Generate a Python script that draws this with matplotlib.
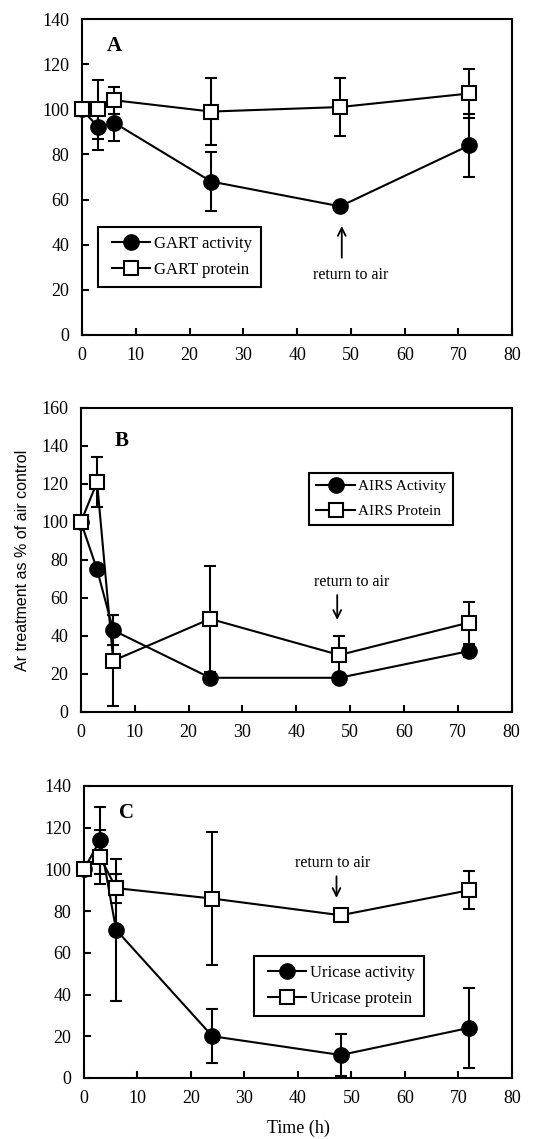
import matplotlib
matplotlib.use("Agg")
import matplotlib.pyplot as plt
from matplotlib.legend_handler import HandlerLine2D

# sampling times (h)
hours = [0, 3, 6, 24, 48, 72]

# panel A
gartAct = [100, 92, 94, 68, 57, 84]
gartActErr = [0, 10, 8, 13, 1, 14]
gartProt = [100, 100, 104, 99, 101, 107]
gartProtErr = [0, 13, 6, 15, 13, 11]

# panel B
airsAct = [100, 75, 43, 18, 18, 32]
airsActErr = [0, 0, 8, 0, 0, 3]
airsProt = [100, 121, 27, 49, 30, 47]
airsProtErr = [0, 13, 24, 28, 10, 11]

# panel C
uricAct = [100, 114, 71, 20, 11, 24]
uricActErr = [0, 16, 34, 13, 10, 19]
uricProt = [100, 106, 91, 86, 78, 90]
uricProtErr = [0, 13, 7, 32, 0, 9]

xTicks = [0, 10, 20, 30, 40, 50, 60, 70, 80]

serif = "Liberation Serif"


def drawPanel(ax, act, actErr, prot, protErr, labels, ymax, ystep,
              letter, letterPos, legLoc, legStyle, textPos, arrowFrom,
              arrowTo, arrowX):
	# error bars first, no legend entry
	ax.errorbar(hours, act, yerr=actErr, fmt='none', ecolor='black',
	            capsize=4, capthick=1.5, elinewidth=1.5, zorder=2, clip_on=False)
	ax.errorbar(hours, prot, yerr=protErr, fmt='none', ecolor='black',
	            capsize=4, capthick=1.5, elinewidth=1.5, zorder=2, clip_on=False)
	ax.plot(hours, act, color='black', lw=1.5, marker='o', ms=11,
	        mfc='black', mec='black', label=labels[0], zorder=3, clip_on=False)
	ax.plot(hours, prot, color='black', lw=1.5, marker='s', ms=10.5,
	        mfc='white', mec='black', mew=1.5, label=labels[1], zorder=4,
	        clip_on=False)
	ax.set_xlim(0, 80)
	ax.set_ylim(0, ymax)
	ax.set_xticks(xTicks)
	ax.set_yticks(range(0, ymax + 1, ystep))
	ax.tick_params(direction='in', length=5, width=1.5, labelsize=13, pad=9,
	               top=False, right=False)
	for lab in ax.get_xticklabels() + ax.get_yticklabels():
		lab.set_family(serif)
	for sp in ax.spines.values():
		sp.set_linewidth(1.5)
		sp.set_zorder(1)
	ax.text(letterPos[0], letterPos[1], letter, family=serif, weight='bold',
	        fontsize=15, ha='center', va='center')
	fs, pad, hlen, xpad, spacing = legStyle
	leg = ax.legend(loc='upper left', bbox_to_anchor=legLoc, frameon=True,
	                fancybox=False, edgecolor='black', framealpha=1,
	                prop={'family': serif, 'size': fs}, handlelength=hlen,
	                handletextpad=0.2, borderpad=pad, labelspacing=spacing,
	                borderaxespad=0,
	                handler_map={plt.Line2D: HandlerLine2D(xpad=xpad)})
	leg.get_frame().set_linewidth(1.5)
	ax.text(textPos[0], textPos[1], 'return to air', family=serif, fontsize=11.5,
	        ha='center', va='center')
	ax.annotate('', xy=(arrowX, arrowTo), xytext=(arrowX, arrowFrom),
	            arrowprops=dict(arrowstyle='->', color='black', lw=1.3,
	                            mutation_scale=14))


def main():
	fig = plt.figure(figsize=(5.58, 11.39), dpi=100)
	axA = fig.add_axes([0.147, 0.7059, 0.771, 0.2774])
	axB = fig.add_axes([0.145, 0.3749, 0.772, 0.2669])
	axC = fig.add_axes([0.1505, 0.0536, 0.767, 0.2564])

	drawPanel(axA, gartAct, gartActErr, gartProt, gartProtErr,
	          ['GART activity', 'GART protein'], 140, 20, 'A', (6.1, 128),
	          (0.037, 0.342), (12, 0.55, 2.6, 0.3, 0.6), (49.9, 26.6),
	          33, 49.5, 48.3)
	drawPanel(axB, airsAct, airsActErr, airsProt, airsProtErr,
	          ['AIRS Activity', 'AIRS Protein'], 160, 20, 'B', (7.6, 142.4),
	          (0.529, 0.787), (11, 0.45, 2.6, 0.0, 0.75), (50.2, 68.6),
	          63, 47, 47.6)
	drawPanel(axC, uricAct, uricActErr, uricProt, uricProtErr,
	          ['Uricase activity', 'Uricase protein'], 140, 20, 'C', (7.9, 127),
	          (0.397, 0.418), (12, 0.55, 2.6, 0.3, 0.6), (46.5, 103),
	          98, 85, 47.2)

	fig.text(0.04, 0.508, 'Ar treatment as % of air control', rotation=90,
	         family='Liberation Sans', fontsize=11.5, ha='center', va='center')
	fig.text(0.534, 0.009, 'Time (h)', family=serif, fontsize=13,
	         ha='center', va='center')

	fig.savefig('out.png', dpi=100)


if __name__ == "__main__":
	main()
